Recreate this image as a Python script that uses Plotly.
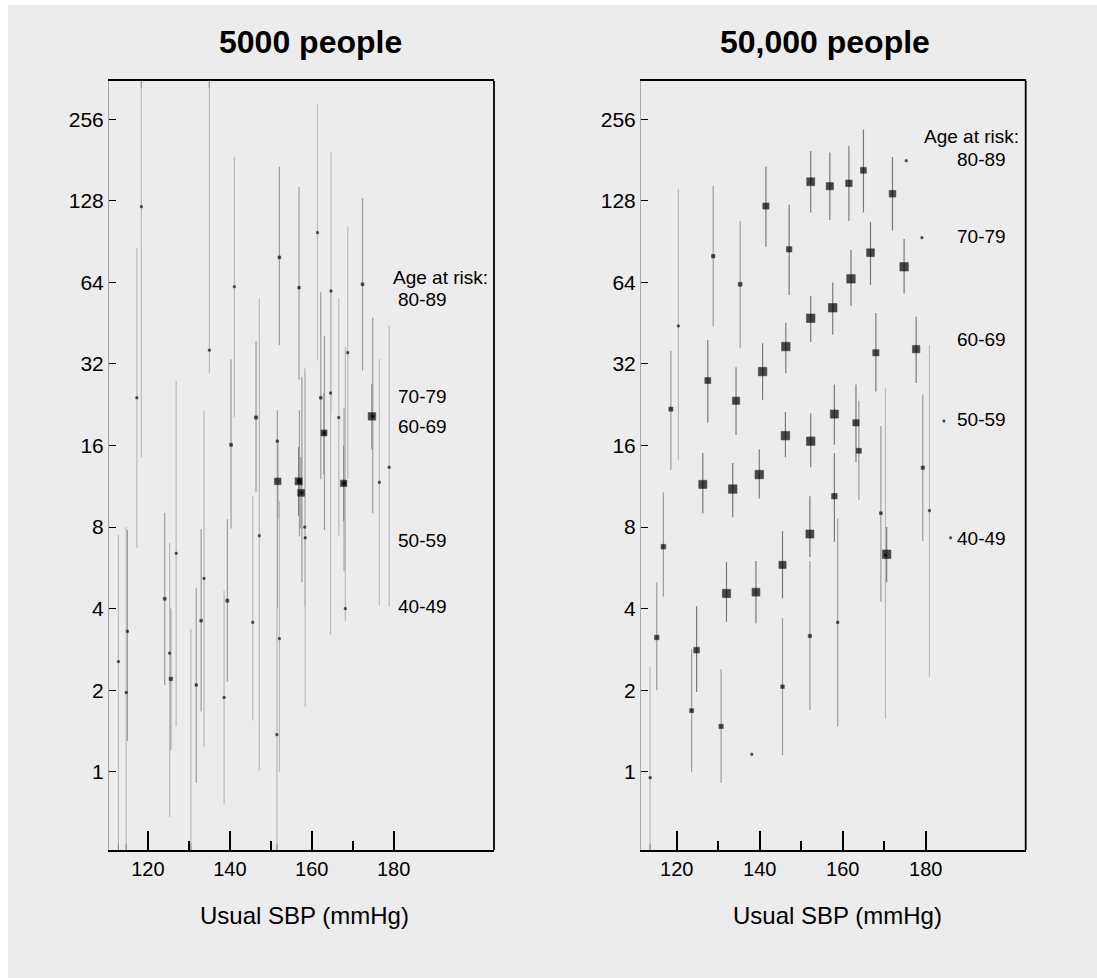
import numpy as np
import plotly.graph_objects as go

# ---- 5000 people: usual SBP (mmHg), hazard estimate, 95% CI ----
small_sbp = [112.8, 114.7, 115.0, 117.3, 118.4, 124.1, 125.3, 125.6, 126.9, 130.5,
             131.8, 133.0, 133.7, 135.0, 138.6, 139.4, 140.3, 141.1, 145.6, 146.4,
             147.2, 151.6, 151.7, 152.1, 151.5, 152.1, 156.9, 156.8, 157.0, 157.4,
             157.6, 158.3, 158.4, 161.4, 162.2, 163.0, 163.1, 164.7, 164.6, 166.6,
             167.8, 167.9, 168.2, 168.8, 172.4, 174.7, 174.9, 176.5, 178.9]
small_est = [2.55, 1.96, 3.3, 24.0, 121.8, 4.35, 2.74, 2.2, 6.4, 0.45,
             2.09, 3.61, 5.17, 36.0, 1.88, 4.28, 16.1, 61.7, 3.56, 20.3,
             7.43, 16.6, 11.8, 3.1, 1.37, 79.2, 61.2, 11.8, 11.8, 10.7,
             10.7, 8.0, 7.3, 97.7, 24.0, 17.8, 17.8, 59.5, 25.0, 20.3,
             11.6, 11.6, 4.0, 35.2, 63.0, 20.5, 20.5, 11.7, 13.3]
small_lo = [0.40, 0.40, 1.3, 6.7, 14.5, 2.09, 0.68, 1.2, 1.47, 0.30,
            0.91, 1.67, 1.24, 29.6, 0.76, 2.15, 7.9, 20.4, 1.55, 10.8,
            1.01, 4.0, 8.6, 1.0, 0.40, 37.6, 28.0, 8.8, 7.4, 7.9,
            5.0, 4.06, 1.74, 33.0, 12.0, 12.5, 7.8, 21.2, 3.2, 7.4,
            8.4, 5.5, 3.6, 12.1, 30.3, 15.5, 9.0, 4.1, 4.06]
small_hi = [7.5, 8.0, 7.8, 85.5, 420.0, 9.04, 7.0, 4.0, 27.7, 3.36,
            4.78, 7.87, 21.6, 420.0, 4.66, 8.55, 33.3, 186.0, 10.4, 38.9,
            55.9, 21.6, 16.2, 10.0, 4.0, 171.0, 144.0, 15.8, 21.6, 14.5,
            28.7, 31.0, 30.0, 291.0, 59.0, 25.0, 40.5, 193.0, 60.0, 55.9,
            16.0, 22.0, 37.0, 103.0, 131.0, 27.0, 47.4, 33.3, 44.3]

# ---- 50,000 people ----
large_sbp = [113.6, 115.2, 116.8, 118.6, 120.4, 123.6, 124.8, 126.3, 127.5, 128.8,
             130.7, 132.0, 133.5, 134.3, 135.3, 138.1, 139.1, 139.9, 140.7, 141.5,
             145.5, 145.5, 146.2, 146.3, 147.1, 152.1, 152.1, 152.3, 152.3, 152.3,
             156.9, 157.6, 158.0, 158.0, 158.8, 161.5, 162.0, 163.2, 163.9, 165.0,
             166.7, 168.0, 169.2, 170.3, 170.6, 172.0, 174.8, 175.3, 177.7, 179.1,
             179.3, 180.9, 184.4, 186.0]
large_est = [0.95, 3.13, 6.77, 21.8, 44.2, 1.68, 2.81, 11.5, 27.8, 80.0,
             1.47, 4.55, 11.05, 23.4, 63.0, 1.16, 4.6, 12.5, 30.0, 122.5,
             5.8, 2.06, 17.4, 37.1, 84.8, 7.54, 3.17, 16.6, 47.2, 150.6,
             145.0, 51.6, 20.9, 10.4, 3.56, 148.6, 66.0, 19.4, 15.3, 166.0,
             82.4, 35.2, 9.0, 6.3, 6.35, 136.0, 73.1, 180.0, 36.3, 93.6,
             13.25, 9.2, 19.7, 7.3]
large_lo = [0.40, 2.0, 4.43, 13.0, 14.1, 1.0, 1.97, 9.0, 19.4, 44.0,
            0.91, 3.58, 8.7, 17.5, 36.6, 1.16, 3.53, 10.2, 23.6, 86.7,
            4.36, 1.15, 14.5, 29.6, 57.5, 6.2, 1.69, 13.3, 38.6, 116.0,
            108.8, 41.0, 16.1, 7.06, 1.47, 107.8, 52.5, 13.9, 10.1, 116.0,
            62.6, 25.3, 4.24, 1.57, 5.0, 99.3, 58.3, 180.0, 27.2, 93.6,
            7.1, 2.24, 19.7, 7.3]
large_hi = [2.44, 4.99, 10.75, 35.8, 141.6, 2.83, 4.09, 15.0, 39.2, 145.6,
            2.39, 5.94, 13.8, 31.1, 107.8, 1.16, 6.0, 15.5, 38.2, 171.0,
            7.74, 3.69, 21.3, 45.4, 124.0, 10.4, 6.0, 21.0, 57.0, 195.5,
            193.0, 64.0, 26.9, 15.0, 8.6, 204.0, 84.3, 26.9, 23.4, 235.0,
            107.0, 49.4, 18.9, 26.0, 8.0, 186.0, 92.5, 180.0, 47.8, 93.6,
            24.7, 37.6, 19.7, 7.3]

y_ticks = [1, 2, 4, 8, 16, 32, 64, 128, 256]
x_ticks = [120, 140, 160, 180]
x_minor = [130, 150, 170]
age_groups = ["80-89", "70-79", "60-69", "50-59", "40-49"]

W, H = 1097, 978
BG = "#ececec"
FONT = "Liberation Sans, Arial, sans-serif"
LOG2_RANGE = [-0.96, 8.47]
Y_RANGE = [v * np.log10(2) for v in LOG2_RANGE]
Y_MIN, Y_MAX = 10 ** Y_RANGE[0], 10 ** Y_RANGE[1]


def px(x):
    return x / W


def py(y):
    return 1 - y / H


def panel_traces(sbp, est, lo, hi, xa, ya):
    sbp, est, lo, hi = map(np.asarray, (sbp, est, lo, hi))
    width = np.log2(hi / lo)
    traces = []
    # CI lines: shade by precision (narrow intervals darker)
    shades = [("#7a7a7a", 0, 1.2), ("#9c9c9c", 1.2, 2.6), ("#bababa", 2.6, 99)]
    for col, a, b in shades:
        sel = (width > 0) & (width >= a) & (width < b)
        xs, ys = [], []
        for x, l, h in zip(sbp[sel], lo[sel], hi[sel]):
            xs += [x, x, None]
            ys += [l, h, None]
        traces.append(go.Scatter(x=xs, y=ys, mode="lines", xaxis=xa, yaxis=ya,
                                 line=dict(color=col, width=1.2),
                                 hoverinfo="skip", showlegend=False))
    # arrowheads where an interval runs off the plotted range
    up = hi > Y_MAX
    dn = lo < Y_MIN
    traces.append(go.Scatter(
        x=list(sbp[up]) + list(sbp[dn]),
        y=[Y_MAX] * int(up.sum()) + [Y_MIN] * int(dn.sum()),
        mode="markers", xaxis=xa, yaxis=ya,
        marker=dict(symbol=["y-down"] * int(up.sum()) + ["y-up"] * int(dn.sum()),
                    size=8, color="#8a8a8a", line=dict(color="#8a8a8a", width=1)),
        hoverinfo="skip", showlegend=False))
    # point estimates: square size reflects precision
    safe = np.where(width > 0, width, 1.0)
    size = np.where(width > 0, np.clip(6.0 / safe, 2.2, 8.5), 2.2)
    traces.append(go.Scatter(x=sbp, y=est, mode="markers", xaxis=xa, yaxis=ya,
                             cliponaxis=False,
                             marker=dict(symbol="square", size=size, color="black",
                                         line=dict(color="black", width=0.6)),
                             showlegend=False))
    return traces


fig = go.Figure()
for t in panel_traces(small_sbp, small_est, small_lo, small_hi, "x", "y"):
    fig.add_trace(t)
for t in panel_traces(large_sbp, large_est, large_lo, large_hi, "x2", "y2"):
    fig.add_trace(t)

xcommon = dict(tickvals=x_ticks, ticks="inside", ticklen=19, tickwidth=2,
               tickcolor="black", showline=True, linecolor="black", linewidth=1.6,
               mirror=True, showgrid=False, zeroline=False,
               tickfont=dict(family=FONT, size=20, color="black"),
               minor=dict(tickvals=x_minor, ticks="inside", ticklen=9, tickwidth=2,
                          tickcolor="black", showgrid=False))
ycommon = dict(type="log", range=Y_RANGE, tickvals=y_ticks,
               ticktext=[str(v) for v in y_ticks], ticks="inside", ticklen=7,
               tickwidth=1.3, tickcolor="black", showline=True, linecolor="#a8a8a8",
               linewidth=1, showgrid=False, zeroline=False,
               tickfont=dict(family=FONT, size=21, color="black"),
               domain=[py(850), py(81)])

fig.update_layout(
    width=W, height=H, autosize=False,
    margin=dict(l=0, r=0, t=0, b=0),
    paper_bgcolor="white", plot_bgcolor="rgba(0,0,0,0)",
    xaxis=dict(domain=[px(109), px(494)], range=[110.5, 204.5], anchor="y", **xcommon),
    yaxis=dict(anchor="x", **ycommon),
    xaxis2=dict(domain=[px(641), px(1025.7)], range=[111.4, 204.1], anchor="y2", **xcommon),
    yaxis2=dict(anchor="x2", **ycommon),
)

shapes = [dict(type="rect", xref="paper", yref="paper", x0=px(8), x1=1, y0=0, y1=py(5),
               fillcolor=BG, line=dict(width=0), layer="below")]
for xd, yd in (("x domain", "y domain"), ("x2 domain", "y2 domain")):
    shapes.append(dict(type="line", xref=xd, yref=yd, x0=1, x1=1, y0=0, y1=1,
                       line=dict(color="black", width=1.8)))
fig.update_layout(shapes=shapes)

ann = []


def text(x, y, s, size):
    ann.append(dict(x=px(x), y=py(y), xref="paper", yref="paper", text=s,
                    showarrow=False, xanchor="center", yanchor="middle",
                    font=dict(family=FONT, size=size, color="black")))


text(310.5, 42, "<b>5000 people</b>", 32)
text(825, 42, "<b>50,000 people</b>", 32)
text(305, 915, "Usual SBP (mmHg)", 24)
text(837, 915, "Usual SBP (mmHg)", 24)

text(440, 277, "Age at risk:", 19)
for lab, yy in zip(age_groups, [299.3, 396.7, 426.7, 540, 606.7]):
    text(422.8, yy, lab, 19)
text(971.7, 137, "Age at risk:", 19)
for lab, yy in zip(age_groups, [160, 236.7, 339.3, 420, 538.3]):
    text(981.7, yy, lab, 19)

fig.update_layout(annotations=ann)
fig.write_html("out.html")
